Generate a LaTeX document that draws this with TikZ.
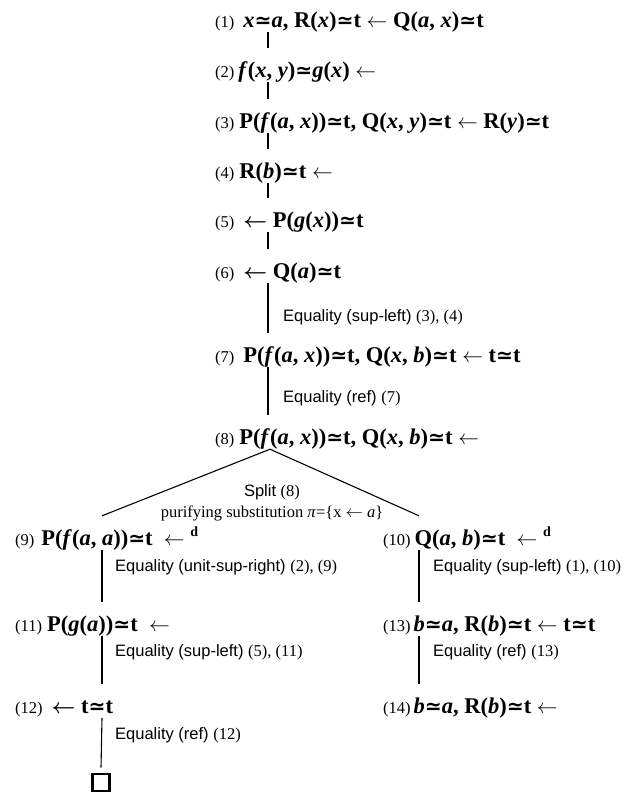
\documentclass[tikz,border=0pt]{standalone}
\usepackage{fontspec}
\setmainfont{Liberation Serif}
\setsansfont{Liberation Sans}
\newfontfamily\symf{DejaVu Sans}[Scale=0.9]
\usetikzlibrary{calc}
\newcommand\eqs{{\symf\bfseries ≃}}
\newcommand\st[1]{{\mdseries\fontsize{16.5}{18}\selectfont #1}}
\newcommand\sr[1]{{\rmfamily #1}}
\newcommand\thin{{\fontsize{20}{20}\selectfont$\leftarrow$}}
\newcommand\thick{{\fontsize{20}{20}\selectfont\boldmath$\leftarrow$}}
\newcommand\supd{\raisebox{9pt}{\fontsize{14}{14}\selectfont d}}
\begin{document}
\begin{tikzpicture}[x=1pt,y=-1pt,
  cl/.style={anchor=base west, inner sep=0pt, text height=29pt, text depth=5pt, font=\fontsize{22.5}{24}\selectfont\bfseries},
  rl/.style={anchor=west, inner sep=0pt, font=\fontsize{16.5}{18}\selectfont\sffamily},
  sl/.style={anchor=center, inner sep=0pt, font=\fontsize{16.5}{18}\selectfont},
  ln/.style={line width=1.1pt}]
\path[use as bounding box] (0,0) rectangle (626,793);
\coordinate (T) at (268,0);
\coordinate (L) at (102,0);
\coordinate (R) at (419,0);
% clauses
\node[cl] (c1) at (215,27) {\st{(1)}\hspace{9pt}\textit{x}\eqs\textit{a}, R(\textit{x})\eqs t \thin{} Q(\textit{a}, \textit{x})\eqs t};
\node[cl] (c2) at (215,77) {\st{(2)}\hspace{4pt}\textit{f}(\textit{x}, \textit{y})\eqs\textit{g}(\textit{x}) \thin};
\node[cl] (c3) at (215,128) {\st{(3)}\hspace{5pt}P(\textit{f}(\textit{a}, \textit{x}))\eqs t, Q(\textit{x}, \textit{y})\eqs t \thin{} R(\textit{y})\eqs t};
\node[cl] (c4) at (215,178) {\st{(4)}\hspace{5pt}R(\textit{b})\eqs t \thin};
\node[cl] (c5) at (215,227) {\st{(5)}\hspace{9pt}\thick{} P(\textit{g}(\textit{x}))\eqs t};
\node[cl] (c6) at (215,278) {\st{(6)}\hspace{9pt}\thick{} Q(\textit{a})\eqs t};
\node[cl] (c7) at (215,362) {\st{(7)}\hspace{9pt}P(\textit{f}(\textit{a}, \textit{x}))\eqs t, Q(\textit{x}, \textit{b})\eqs t \thin{} t\eqs t};
\node[cl] (c8) at (215,444) {\st{(8)}\hspace{5pt}P(\textit{f}(\textit{a}, \textit{x}))\eqs t, Q(\textit{x}, \textit{b})\eqs t \thin};
\node[cl] (c9) at (15,545) {\st{(9)}\hspace{7pt}P(\textit{f}(\textit{a}, \textit{a}))\eqs t\ \ \thin\ \supd};
\node[cl] (c10) at (383,545) {\st{(10)}\hspace{4pt}Q(\textit{a}, \textit{b})\eqs t\ \ \thin\ \supd};
\node[cl] (c11) at (15,631) {\st{(11)}\hspace{5pt}P(\textit{g}(\textit{a}))\eqs t\ \ \thin};
\node[cl] (c12) at (15,713) {\st{(12)}\hspace{9pt}\thick{} t\eqs t};
\node[cl] (c13) at (383,631) {\st{(13)}\hspace{3pt}\textit{b}\eqs\textit{a}, R(\textit{b})\eqs t \thin{} t\eqs t};
\node[cl] (c14) at (383,713) {\st{(14)}\hspace{3pt}\textit{b}\eqs\textit{a}, R(\textit{b})\eqs t \thin};
\node[draw, line width=2.6pt, minimum size=17pt, inner sep=0pt] (box) at (101,782.5) {};
% connectors
\draw[ln] (c1.south -| T) -- (c2.north -| T);
\draw[ln] (c2.south -| T) -- (c3.north -| T);
\draw[ln] (c3.south -| T) -- (c4.north -| T);
\draw[ln] (c4.south -| T) -- (c5.north -| T);
\draw[ln] (c5.south -| T) -- (c6.north -| T);
\draw[ln] (c6.south -| T) -- (c7.north -| T);
\draw[ln] (c7.south -| T) -- (c8.north -| T);
\draw[ln] (c9.south -| L) -- (c11.north -| L);
\draw[ln] (c11.south -| L) -- (c12.north -| L);
\draw[ln] (c12.south -| L) -- ($(box.north)+(0,-5)$);
\draw[ln] (c10.south -| R) -- (c13.north -| R);
\draw[ln] (c13.south -| R) -- (c14.north -| R);
\coordinate (apex) at ($(c8.south -| T)+(2,0)$);
\draw[ln] (c9.north -| L) -- (apex) -- (c10.north -| R);
% rule labels
\node[rl] (r1) at (283,317) {Equality (sup-left) \sr{(3), (4)}};
\node[rl] (r2) at (283,398) {Equality (ref) \sr{(7)}};
\node[sl] (s1) at (272,492) {\sffamily Split \sr{(8)}};
\node[sl] (s2) at (272,513) {purifying substitution \textit{π}=\{x $\leftarrow$ \textit{a}\}};
\node[rl] (r3) at (115,567) {Equality (unit-sup-right) \sr{(2), (9)}};
\node[rl] (r4) at (433,567) {Equality (sup-left) \sr{(1), (10)}};
\node[rl] (r5) at (115,652) {Equality (sup-left) \sr{(5), (11)}};
\node[rl] (r6) at (115,735) {Equality (ref) \sr{(12)}};
\node[rl] (r7) at (433,652) {Equality (ref) \sr{(13)}};
\end{tikzpicture}
\end{document}
